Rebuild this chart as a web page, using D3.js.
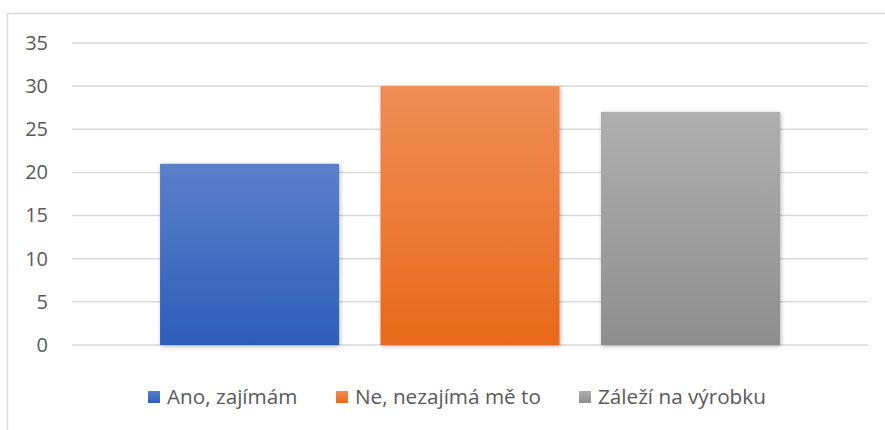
<!DOCTYPE html>
<html>
<head>
<meta charset="utf-8">
<script src="https://cdn.jsdelivr.net/npm/d3@7"></script>
<style>
  html, body { margin: 0; padding: 0; background: #fff; }
  svg { display: block; }
</style>
</head>
<body>
<svg id="chart" width="885" height="430"></svg>
<script>
const categories = ["Ano, zajímám", "Ne, nezajímá mě to", "Záleží na výrobku"];
const values = [21, 30, 27];
const yTicks = [0, 5, 10, 15, 20, 25, 30, 35];
const colorsTop = ["#5B80CB", "#F08D55", "#AFAFAF"];
const colorsBottom = ["#2D5EB8", "#E8691A", "#8E8E8E"];

const svg = d3.select("#chart");
const W = 885, H = 430;
const plot = { left: 72, right: 868, top: 43, bottom: 345 };

// chart border
svg.append("rect")
  .attr("x", 7.5).attr("y", 13.5)
  .attr("width", W + 20).attr("height", H + 20)
  .attr("fill", "#fff").attr("stroke", "#D9D9D9").attr("stroke-width", 1.5);

const defs = svg.append("defs");
categories.forEach((c, i) => {
  const g = defs.append("linearGradient").attr("id", "grad" + i)
    .attr("x1", 0).attr("y1", 0).attr("x2", 0).attr("y2", 1);
  g.append("stop").attr("offset", "0%").attr("stop-color", colorsTop[i]);
  g.append("stop").attr("offset", "100%").attr("stop-color", colorsBottom[i]);
});
const f = defs.append("filter").attr("id", "shadow")
  .attr("x", "-10%").attr("y", "-10%").attr("width", "120%").attr("height", "120%");
f.append("feDropShadow").attr("dx", 1).attr("dy", 1).attr("stdDeviation", 2)
  .attr("flood-color", "#000").attr("flood-opacity", 0.3);

const y = d3.scaleLinear().domain([0, 35]).range([plot.bottom, plot.top]);
const x0 = d3.scaleBand().domain(["all"]).range([plot.left, plot.right])
  .paddingInner(0).paddingOuter(0.142);
const x1 = d3.scaleBand().domain(categories).range([0, x0.bandwidth()])
  .paddingInner(0.188).paddingOuter(0);

// gridlines
svg.append("g").selectAll("line").data(yTicks).join("line")
  .attr("x1", plot.left).attr("x2", plot.right)
  .attr("y1", d => y(d)).attr("y2", d => y(d))
  .attr("stroke", "#D9D9D9").attr("stroke-width", 1.5);

// y axis
const yAxis = d3.axisLeft(y).tickValues(yTicks).tickSize(0).tickPadding(0);
const ya = svg.append("g").attr("transform", "translate(48,0)").call(yAxis);
ya.select(".domain").remove();
ya.selectAll("text")
  .attr("font-family", "'Open Sans', sans-serif")
  .attr("font-size", 20)
  .attr("fill", "#595959");

// bars
svg.append("g").selectAll("rect").data(values).join("rect")
  .attr("x", (d, i) => x0("all") + x1(categories[i]))
  .attr("y", d => y(d))
  .attr("width", x1.bandwidth())
  .attr("height", d => y(0) - y(d))
  .attr("fill", (d, i) => "url(#grad" + i + ")")
  .attr("filter", "url(#shadow)");

// legend
const legendX = [148, 336, 579];
const lg = svg.append("g").selectAll("g").data(categories).join("g")
  .attr("transform", (d, i) => `translate(${legendX[i]},0)`);
lg.append("rect").attr("x", 0).attr("y", 391).attr("width", 12).attr("height", 12)
  .attr("fill", (d, i) => "url(#grad" + i + ")");
lg.append("text").attr("x", 19).attr("y", 403.5)
  .attr("font-family", "'Open Sans', sans-serif")
  .attr("font-size", 20.7)
  .attr("fill", "#595959")
  .text(d => d);
</script>
</body>
</html>
